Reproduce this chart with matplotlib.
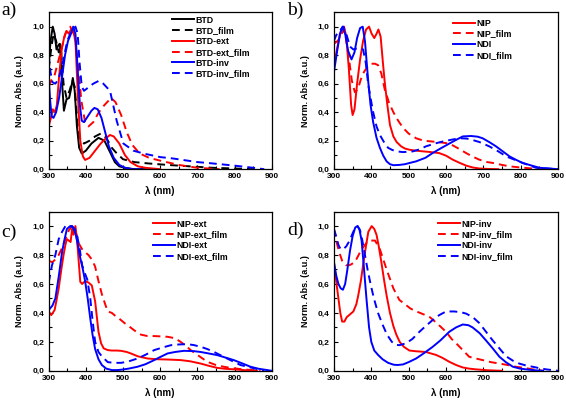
import matplotlib
matplotlib.use('Agg')
import matplotlib.pyplot as plt
from matplotlib.ticker import MultipleLocator, FuncFormatter

plt.rcParams['font.family'] = ['Liberation Sans', 'DejaVu Sans']
plt.rcParams['font.weight'] = 'bold'

# ---- panel a ----
btd_x = [300, 305, 311, 316, 321, 326, 330, 335, 341, 348, 355, 360, 365, 370, 376, 382, 389, 400, 415, 434, 450, 465, 478, 490, 505, 530, 560]
btd_y = [0.72, 0.9, 1.0, 0.95, 0.84, 0.87, 0.88, 0.65, 0.41, 0.49, 0.5, 0.56, 0.64, 0.55, 0.3, 0.15, 0.11, 0.13, 0.18, 0.22, 0.2, 0.12, 0.05, 0.02, 0.01, 0.0, 0.0]
btd_film_x = [300, 307, 313, 320, 327, 333, 340, 348, 356, 364, 370, 378, 386, 395, 410, 425, 440, 455, 470, 480, 500, 530, 570, 620, 680, 740, 800, 850]
btd_film_y = [0.7, 0.85, 0.95, 0.9, 0.82, 0.85, 0.6, 0.5, 0.55, 0.62, 0.58, 0.3, 0.2, 0.18, 0.2, 0.23, 0.25, 0.22, 0.15, 0.12, 0.07, 0.05, 0.04, 0.03, 0.02, 0.01, 0.005, 0.0]
btd_ext_x = [300, 306, 311, 317, 322, 328, 335, 342, 348, 354, 360, 366, 372, 378, 385, 392, 398, 410, 425, 440, 455, 465, 475, 490, 505, 520, 540, 560, 600]
btd_ext_y = [0.3, 0.36, 0.42, 0.4, 0.45, 0.65, 0.84, 0.93, 0.97, 0.95, 0.98, 0.97, 0.9, 0.55, 0.2, 0.09, 0.065, 0.08, 0.13, 0.18, 0.22, 0.24, 0.23, 0.18, 0.1, 0.05, 0.02, 0.01, 0.0]
btd_ext_film_x = [300, 308, 315, 322, 330, 338, 345, 352, 358, 365, 372, 380, 388, 398, 407, 420, 435, 450, 468, 480, 495, 510, 525, 545, 570, 600, 650, 700, 760]
btd_ext_film_y = [0.58, 0.63, 0.65, 0.72, 0.8, 0.88, 0.95, 0.99, 1.0, 0.96, 0.9, 0.7, 0.48, 0.33, 0.3, 0.33, 0.4, 0.45, 0.5, 0.47, 0.38, 0.26, 0.17, 0.11, 0.08, 0.06, 0.03, 0.01, 0.0]
btd_inv_x = [300, 304, 308, 313, 320, 328, 336, 344, 352, 360, 366, 372, 378, 384, 389, 395, 405, 415, 423, 432, 442, 452, 462, 475, 490, 505, 525, 550]
btd_inv_y = [0.65, 0.48, 0.37, 0.36, 0.4, 0.5, 0.65, 0.8, 0.9, 0.95, 1.0, 0.95, 0.7, 0.45, 0.34, 0.33, 0.37, 0.41, 0.43, 0.42, 0.36, 0.26, 0.16, 0.08, 0.03, 0.01, 0.0, 0.0]
btd_inv_film_x = [300, 305, 310, 318, 326, 334, 342, 350, 358, 366, 372, 378, 383, 389, 395, 405, 420, 435, 447, 465, 483, 501, 528, 555, 600, 635, 700, 743, 800, 850, 880]
btd_inv_film_y = [0.8, 0.68, 0.61, 0.6, 0.63, 0.7, 0.8, 0.9, 0.95, 0.98, 1.0, 0.95, 0.75, 0.58, 0.55, 0.57, 0.6, 0.62, 0.6, 0.55, 0.34, 0.18, 0.13, 0.11, 0.085, 0.075, 0.05, 0.04, 0.025, 0.01, 0.0]

# ---- panel b ----
nip_x = [300, 308, 316, 322, 327, 333, 340, 346, 350, 355, 362, 370, 378, 386, 394, 401, 408, 414, 419, 425, 431, 436, 443, 450, 459, 468, 480, 490, 503, 520, 539, 560, 582, 600, 618, 636, 654, 672, 689, 710, 740]
nip_y = [0.72, 0.84, 0.94, 0.99, 1.0, 0.93, 0.7, 0.45, 0.38, 0.42, 0.6, 0.77, 0.9, 0.98, 1.0, 0.95, 0.92, 0.95, 0.98, 0.93, 0.75, 0.61, 0.45, 0.31, 0.23, 0.19, 0.16, 0.145, 0.136, 0.13, 0.125, 0.12, 0.113, 0.095, 0.067, 0.045, 0.025, 0.012, 0.005, 0.002, 0.0]
nip_film_x = [300, 310, 318, 325, 332, 340, 348, 356, 364, 372, 380, 390, 400, 410, 418, 427, 436, 447, 459, 472, 485, 500, 520, 540, 564, 585, 609, 630, 654, 670, 689, 710, 725, 750, 770, 800, 830, 860]
nip_film_y = [0.88, 0.9, 0.93, 0.98, 0.92, 0.78, 0.62, 0.54, 0.56, 0.63, 0.68, 0.72, 0.74, 0.74, 0.73, 0.67, 0.56, 0.47, 0.4, 0.34, 0.29, 0.25, 0.217, 0.2, 0.194, 0.188, 0.18, 0.15, 0.113, 0.09, 0.067, 0.05, 0.044, 0.03, 0.02, 0.012, 0.005, 0.0]
ndi_x = [300, 308, 316, 323, 330, 338, 347, 355, 362, 370, 377, 383, 392, 398, 405, 414, 423, 432, 441, 450, 459, 475, 490, 503, 520, 545, 564, 585, 609, 630, 645, 667, 685, 698, 716, 734, 752, 770, 788, 805, 830, 850, 875, 900]
ndi_y = [0.68, 0.82, 0.95, 1.0, 0.95, 0.83, 0.77, 0.82, 0.92, 0.99, 1.0, 0.9, 0.61, 0.45, 0.33, 0.22, 0.15, 0.095, 0.055, 0.035, 0.028, 0.03, 0.035, 0.044, 0.055, 0.08, 0.113, 0.145, 0.18, 0.21, 0.23, 0.233, 0.228, 0.217, 0.19, 0.16, 0.125, 0.09, 0.065, 0.044, 0.025, 0.01, 0.005, 0.0]
ndi_film_x = [300, 306, 312, 318, 325, 333, 343, 352, 365, 378, 385, 392, 398, 405, 414, 423, 434, 445, 456, 468, 485, 503, 511, 530, 546, 570, 591, 615, 636, 655, 671, 690, 716, 740, 761, 785, 805, 825, 841, 870, 900]
ndi_film_y = [0.9, 0.94, 0.96, 0.98, 1.0, 0.95, 0.86, 0.84, 0.85, 0.84, 0.75, 0.59, 0.5, 0.4, 0.3, 0.24, 0.19, 0.15, 0.135, 0.125, 0.12, 0.123, 0.125, 0.14, 0.16, 0.18, 0.194, 0.207, 0.217, 0.215, 0.205, 0.19, 0.16, 0.125, 0.09, 0.065, 0.044, 0.025, 0.01, 0.005, 0.0]

# ---- panel c ----
nip_ext_x = [300, 307, 316, 322, 327, 334, 340, 345, 349, 354, 359, 363, 367, 372, 378, 385, 390, 398, 407, 416, 425, 434, 441, 448, 459, 470, 483, 495, 510, 521, 540, 566, 590, 620, 655, 680, 709, 730, 754, 775, 798, 830, 860]
nip_ext_y = [0.41, 0.385, 0.42, 0.5, 0.57, 0.7, 0.8, 0.87, 0.91, 0.9, 0.89, 0.98, 0.94, 1.0, 0.85, 0.615, 0.6, 0.62, 0.61, 0.59, 0.48, 0.27, 0.19, 0.155, 0.143, 0.14, 0.14, 0.138, 0.13, 0.12, 0.1, 0.085, 0.08, 0.078, 0.074, 0.066, 0.05, 0.035, 0.02, 0.014, 0.01, 0.004, 0.0]
nip_ext_film_x = [300, 310, 318, 327, 336, 345, 354, 363, 372, 381, 390, 398, 407, 416, 425, 434, 443, 452, 459, 470, 479, 490, 504, 515, 530, 548, 566, 584, 600, 620, 640, 655, 670, 682, 700, 727, 750, 771, 795, 816, 850, 870]
nip_ext_film_y = [0.76, 0.75, 0.77, 0.8, 0.85, 0.91, 0.97, 1.0, 0.97, 0.88, 0.84, 0.82, 0.8, 0.77, 0.72, 0.62, 0.53, 0.46, 0.41, 0.4, 0.38, 0.36, 0.33, 0.31, 0.28, 0.25, 0.24, 0.24, 0.238, 0.235, 0.225, 0.2, 0.17, 0.143, 0.11, 0.062, 0.04, 0.028, 0.018, 0.012, 0.004, 0.0]
ndi_ext_x = [300, 310, 318, 327, 336, 342, 349, 358, 365, 372, 378, 385, 392, 398, 405, 412, 418, 425, 434, 443, 455, 470, 485, 497, 515, 539, 560, 584, 600, 620, 640, 664, 690, 709, 730, 754, 775, 798, 820, 843, 865, 888, 900]
ndi_ext_y = [0.42, 0.45, 0.5, 0.65, 0.82, 0.9, 0.98, 1.0, 0.99, 0.95, 0.88, 0.78, 0.7, 0.62, 0.5, 0.36, 0.25, 0.15, 0.08, 0.04, 0.015, 0.005, 0.005, 0.008, 0.015, 0.028, 0.045, 0.074, 0.095, 0.12, 0.13, 0.138, 0.136, 0.13, 0.12, 0.108, 0.092, 0.074, 0.052, 0.028, 0.014, 0.005, 0.0]
ndi_ext_film_x = [300, 309, 318, 327, 336, 345, 354, 363, 370, 376, 383, 390, 398, 404, 412, 418, 425, 434, 443, 459, 475, 495, 515, 539, 560, 584, 605, 629, 650, 673, 690, 709, 727, 745, 762, 780, 800, 816, 840, 861, 880]
ndi_ext_film_y = [0.61, 0.73, 0.8, 0.91, 0.96, 1.0, 1.0, 1.0, 0.98, 0.94, 0.85, 0.73, 0.67, 0.63, 0.5, 0.35, 0.2, 0.13, 0.1, 0.06, 0.055, 0.055, 0.065, 0.085, 0.11, 0.143, 0.16, 0.177, 0.182, 0.184, 0.178, 0.166, 0.15, 0.13, 0.108, 0.085, 0.06, 0.04, 0.025, 0.012, 0.0]

# ---- panel d ----
nip_inv_x = [300, 306, 312, 317, 322, 328, 334, 343, 352, 360, 365, 372, 378, 385, 392, 401, 408, 414, 420, 427, 434, 441, 450, 459, 467, 476, 487, 502, 520, 546, 573, 590, 609, 627, 645, 662, 680, 710, 750]
nip_inv_y = [0.75, 0.62, 0.5, 0.4, 0.34, 0.34, 0.37, 0.39, 0.41, 0.46, 0.52, 0.62, 0.73, 0.85, 0.96, 1.0, 0.98, 0.94, 0.86, 0.75, 0.63, 0.52, 0.4, 0.31, 0.25, 0.2, 0.166, 0.14, 0.135, 0.13, 0.11, 0.09, 0.062, 0.04, 0.023, 0.015, 0.01, 0.004, 0.0]
nip_inv_film_x = [300, 306, 314, 322, 332, 342, 356, 374, 392, 410, 423, 441, 459, 475, 490, 505, 521, 540, 557, 575, 600, 615, 631, 646, 662, 680, 698, 720, 743, 765, 787, 810, 832, 860]
nip_inv_film_y = [0.98, 0.9, 0.82, 0.76, 0.73, 0.73, 0.75, 0.84, 0.9, 0.9, 0.84, 0.7, 0.57, 0.49, 0.46, 0.43, 0.41, 0.39, 0.37, 0.33, 0.27, 0.22, 0.18, 0.14, 0.097, 0.085, 0.074, 0.06, 0.05, 0.04, 0.028, 0.02, 0.01, 0.0]
ndi_inv_x = [300, 306, 312, 318, 324, 330, 336, 343, 350, 357, 363, 368, 374, 380, 387, 394, 400, 408, 418, 430, 445, 460, 470, 485, 500, 520, 540, 564, 585, 609, 627, 645, 660, 671, 690, 707, 725, 743, 760, 779, 797, 814, 835, 860]
ndi_inv_y = [0.75, 0.66, 0.6, 0.57, 0.56, 0.6, 0.7, 0.83, 0.93, 0.99, 1.0, 0.98, 0.9, 0.72, 0.5, 0.3, 0.2, 0.14, 0.11, 0.08, 0.055, 0.042, 0.04, 0.044, 0.06, 0.085, 0.12, 0.165, 0.21, 0.27, 0.3, 0.32, 0.315, 0.3, 0.26, 0.21, 0.155, 0.097, 0.06, 0.028, 0.016, 0.01, 0.004, 0.0]
ndi_inv_film_x = [300, 306, 312, 318, 325, 333, 342, 350, 357, 363, 370, 376, 383, 390, 398, 407, 418, 430, 442, 455, 465, 475, 493, 510, 529, 546, 564, 582, 600, 622, 640, 654, 672, 689, 707, 725, 743, 761, 779, 796, 815, 832, 850, 868, 900]
ndi_inv_film_y = [0.98, 0.93, 0.87, 0.84, 0.84, 0.86, 0.9, 0.95, 0.99, 1.0, 0.97, 0.9, 0.8, 0.7, 0.6, 0.5, 0.4, 0.32, 0.25, 0.2, 0.18, 0.177, 0.19, 0.22, 0.27, 0.31, 0.35, 0.385, 0.41, 0.41, 0.405, 0.395, 0.37, 0.33, 0.27, 0.21, 0.155, 0.1, 0.07, 0.05, 0.036, 0.028, 0.018, 0.01, 0.0]

DASH = (0, (4, 2.6))
LW = 1.4

panels = [
    ('a)', [0.086, 0.577, 0.394, 0.392], (0.553, 0.98), [
        (btd_x, btd_y, 'k', '-', 'BTD'),
        (btd_film_x, btd_film_y, 'k', DASH, 'BTD_film'),
        (btd_ext_x, btd_ext_y, 'r', '-', 'BTD-ext'),
        (btd_ext_film_x, btd_ext_film_y, 'r', DASH, 'BTD-ext_film'),
        (btd_inv_x, btd_inv_y, 'b', '-', 'BTD-inv'),
        (btd_inv_film_x, btd_inv_film_y, 'b', DASH, 'BTD-inv_film'),
    ]),
    ('b)', [0.590, 0.577, 0.396, 0.392], (0.53, 0.96), [
        (nip_x, nip_y, 'r', '-', 'NIP'),
        (nip_film_x, nip_film_y, 'r', DASH, 'NIP_film'),
        (ndi_x, ndi_y, 'b', '-', 'NDI'),
        (ndi_film_x, ndi_film_y, 'b', DASH, 'NDI_film'),
    ]),
    ('c)', [0.086, 0.073, 0.394, 0.398], (0.467, 0.95), [
        (nip_ext_x, nip_ext_y, 'r', '-', 'NIP-ext'),
        (nip_ext_film_x, nip_ext_film_y, 'r', DASH, 'NIP-ext_film'),
        (ndi_ext_x, ndi_ext_y, 'b', '-', 'NDI-ext'),
        (ndi_ext_film_x, ndi_ext_film_y, 'b', DASH, 'NDI-ext_film'),
    ]),
    ('d)', [0.590, 0.073, 0.396, 0.398], (0.464, 0.95), [
        (nip_inv_x, nip_inv_y, 'r', '-', 'NIP-inv'),
        (nip_inv_film_x, nip_inv_film_y, 'r', DASH, 'NIP-inv_film'),
        (ndi_inv_x, ndi_inv_y, 'b', '-', 'NDI-inv'),
        (ndi_inv_film_x, ndi_inv_film_y, 'b', DASH, 'NDI-inv_film'),
    ]),
]

label_pos = {'a)': (0.002, 0.997), 'b)': (0.508, 0.997), 'c)': (0.002, 0.442), 'd)': (0.508, 0.447)}

fig = plt.figure(figsize=(5.66, 4.0), dpi=100)
comma = FuncFormatter(lambda v, p: f'{v:.1f}'.replace('.', ','))

for tag, rect, leg_anchor, series in panels:
    ax = fig.add_axes(rect)
    for xs, ys, col, ls, lab in series:
        ax.plot(xs, ys, color=col, linestyle=ls, lw=LW, label=lab)
    ax.set_xlim(300, 900)
    ax.set_ylim(0, 1.1)
    ax.xaxis.set_major_locator(MultipleLocator(100))
    ax.xaxis.set_minor_locator(MultipleLocator(50))
    ax.yaxis.set_major_locator(MultipleLocator(0.2))
    ax.yaxis.set_minor_locator(MultipleLocator(0.1))
    ax.yaxis.set_major_formatter(comma)
    ax.tick_params(which='both', direction='in', labelsize=6, width=0.8, pad=3)
    ax.tick_params(which='major', length=3)
    ax.tick_params(which='minor', length=2)
    for s in ax.spines.values():
        s.set_linewidth(0.9)
    ax.set_xlabel('λ (nm)', fontsize=7, fontweight='bold', labelpad=4)
    ax.set_ylabel('Norm. Abs. (a.u.)', fontsize=6.5, fontweight='bold', labelpad=6)
    ax.legend(loc='upper left', bbox_to_anchor=leg_anchor, frameon=False, fontsize=6.3,
              handlelength=2.5, handletextpad=0.2, labelspacing=0.2, borderpad=0,
              borderaxespad=0)
    lx, ly = label_pos[tag]
    fig.text(lx, ly, tag, fontsize=14, family='Liberation Serif', fontweight='normal',
             ha='left', va='top')

fig.savefig('out.png', dpi=100)
